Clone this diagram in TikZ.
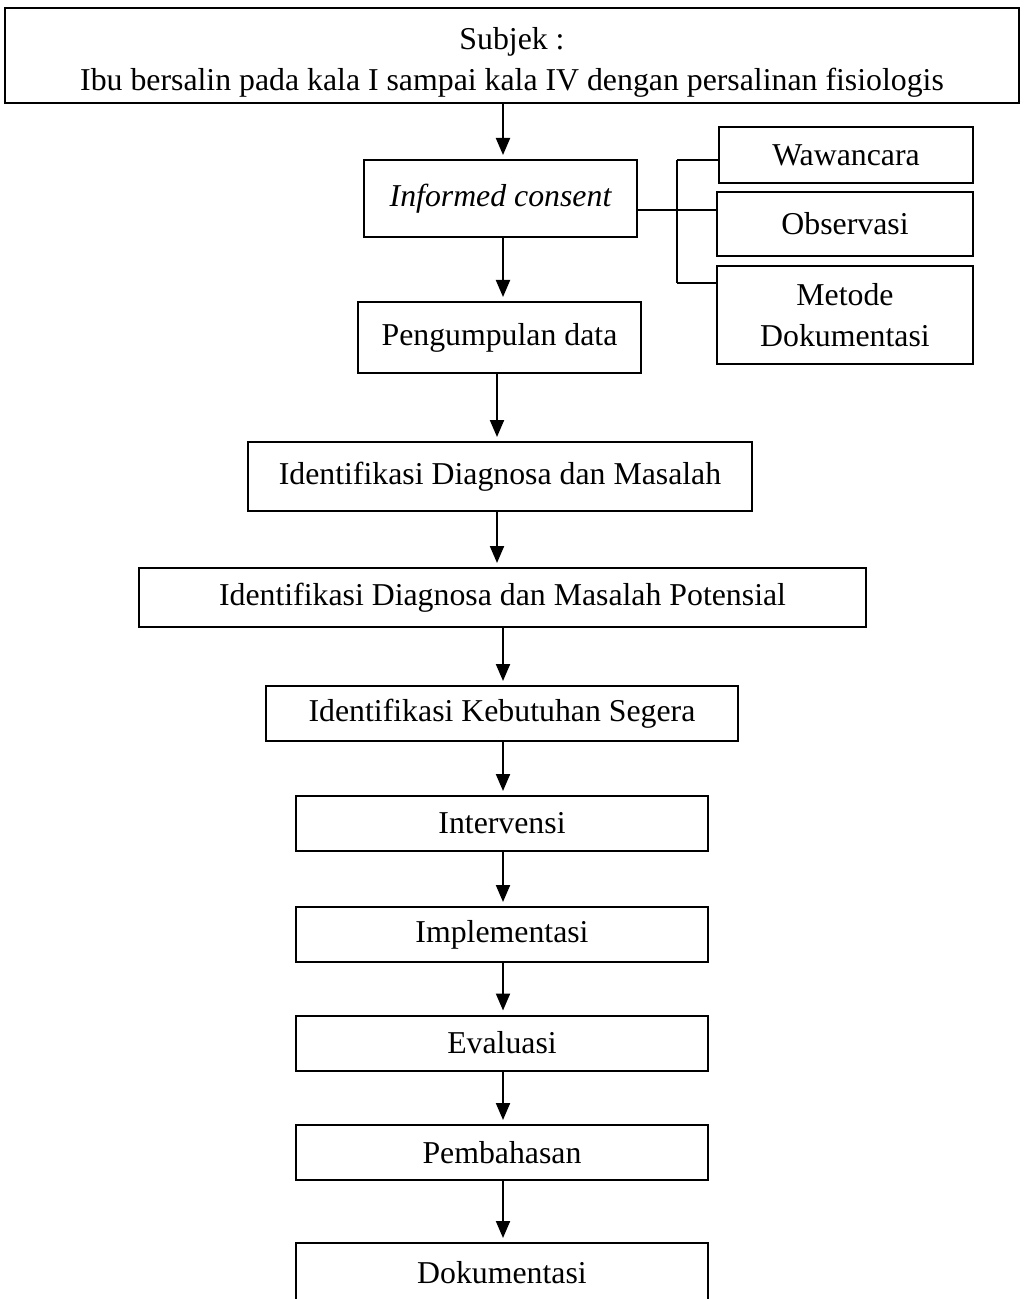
\documentclass[tikz,border=0pt]{standalone}
\usepackage{fontspec}
\setmainfont{Liberation Serif}
\usetikzlibrary{arrows.meta}

\begin{document}
\begin{tikzpicture}[
    x=0.5pt, y=-0.5pt,
    box/.style={rectangle, draw=black, line width=1pt, align=center,
                inner sep=0pt, font=\fontsize{15.9}{20.75}\selectfont},
    stage/.style={box, minimum width=206pt, minimum height=27.5pt},
    arrow/.style={-{Triangle[length=8.5pt, width=7pt]}, line width=1pt, shorten >=2pt},
    link/.style={line width=0.9pt}
]
\useasboundingbox (0,0) rectangle (1024,1299);
\clip (0,0) rectangle (1024,1299);

\node[box, minimum width=507pt, minimum height=47.5pt] (subjek) at (512,55.5)
    {\rule{0pt}{18pt}Subjek :\\Ibu bersalin pada kala I sampai kala IV dengan persalinan fisiologis};
\node[box, minimum width=136.5pt, minimum height=38.5pt] (consent) at (500.5,198.5)
    {\itshape Informed consent};
\node[box, minimum width=127pt, minimum height=28pt] (wawancara) at (846,155) {Wawancara};
\node[box, minimum width=128pt, minimum height=32pt] (observasi) at (845,224) {Observasi};
\node[box, minimum width=128pt, minimum height=49pt] (metode) at (845,315) {Metode\\Dokumentasi};
\node[box, minimum width=141.5pt, minimum height=35.5pt] (kumpul) at (499.5,337.5) {Pengumpulan data};
\node[box, minimum width=252pt, minimum height=34.5pt] (diagnosa) at (500,476.5)
    {Identifikasi Diagnosa dan Masalah};
\node[box, minimum width=363.5pt, minimum height=29.5pt] (potensial) at (502.5,597.5)
    {Identifikasi Diagnosa dan Masalah Potensial};
\node[box, minimum width=236pt, minimum height=27.5pt] (segera) at (502,713.5)
    {Identifikasi Kebutuhan Segera};
\node[stage] (intervensi) at (502,823.5) {Intervensi};
\node[stage] (implementasi) at (502,934.5) {Implementasi};
\node[stage] (evaluasi) at (502,1043) {Evaluasi};
\node[stage] (pembahasan) at (502,1152.5) {Pembahasan};
\node[stage, minimum height=30pt] (dokumentasi) at (502,1273) {Dokumentasi};

% bracket to the data collection methods
\coordinate (split) at (677,210);
\draw[link] (consent.east |- split) -- (observasi.west |- split);
\draw[link] (677,160) -- (677,283);
\draw[link] (677,160) -- (wawancara.west |- 0,160);
\draw[link] (677,283) -- (metode.west |- 0,283);

% main flow
\draw[arrow] (subjek.south -| 503,0) -- (consent.north -| 503,0);
\draw[arrow] (consent.south -| 503,0) -- (kumpul.north -| 503,0);
\draw[arrow] (kumpul.south -| 497,0) -- (diagnosa.north -| 497,0);
\draw[arrow] (diagnosa.south -| 497,0) -- (potensial.north -| 497,0);
\draw[arrow] (potensial.south -| 503,0) -- (segera.north -| 503,0);
\draw[arrow] (segera.south -| 503,0) -- (intervensi.north -| 503,0);
\draw[arrow] (intervensi.south -| 503,0) -- (implementasi.north -| 503,0);
\draw[arrow] (implementasi.south -| 503,0) -- (evaluasi.north -| 503,0);
\draw[arrow] (evaluasi.south -| 503,0) -- (pembahasan.north -| 503,0);
\draw[arrow] (pembahasan.south -| 503,0) -- (dokumentasi.north -| 503,0);

\end{tikzpicture}
\end{document}
